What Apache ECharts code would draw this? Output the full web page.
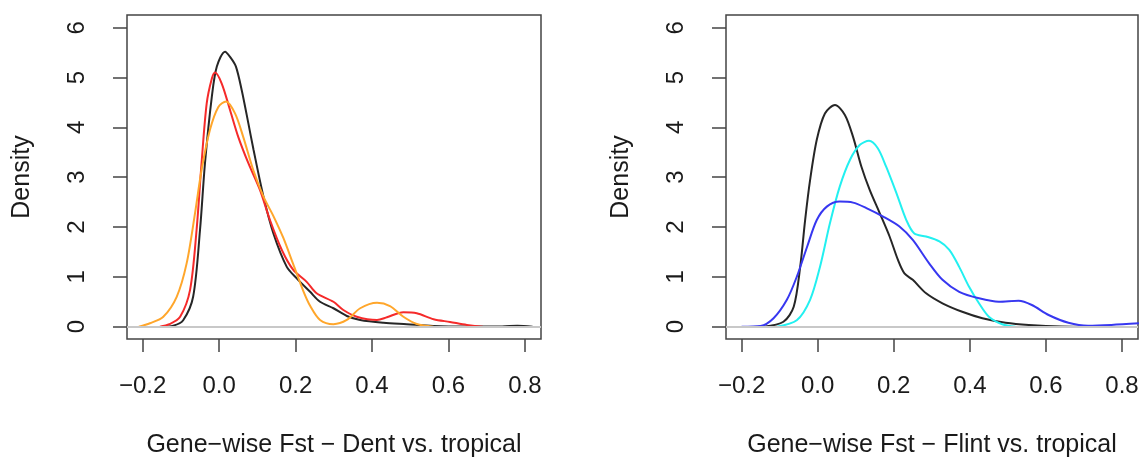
<!DOCTYPE html>
<html>
<head>
<meta charset="utf-8">
<script src="https://cdn.jsdelivr.net/npm/echarts@6/dist/echarts.min.js"></script>
<style>
  body { margin: 0; background: #fff; }
  #main { width: 1142px; height: 457px; }
</style>
</head>
<body>
<div id="main"></div>
<script>
// tick values shared by both panels
var xTicks = [-0.2, 0, 0.2, 0.4, 0.6, 0.8];
var yTicks = [0, 1, 2, 3, 4, 5, 6];

// left panel: Dent vs. tropical
var dentBlackX = [-0.15,-0.12,-0.094,-0.068,-0.05,-0.037,-0.019,-0.006,0.0155,0.03,0.044,0.059,0.0765,0.09,0.116,0.142,0.177,0.203,0.238,0.264,0.299,0.334,0.369,0.43,0.491,0.56,0.65,0.74,0.78,0.82];
var dentBlackY = [0,0.02,0.13,0.6,1.94,3.28,4.62,5.22,5.52,5.4,5.22,4.75,4.08,3.55,2.61,1.87,1.2,0.97,0.7,0.5,0.37,0.215,0.135,0.08,0.05,0.015,0.005,0.005,0.02,0];
var dentRedX = [-0.155,-0.13,-0.102,-0.076,-0.059,-0.046,-0.0325,-0.019,-0.0107,0.0068,0.0285,0.05,0.0765,0.107,0.133,0.164,0.194,0.229,0.255,0.299,0.325,0.36,0.413,0.439,0.482,0.517,0.561,0.604,0.648,0.69];
var dentRedY = [0,0.05,0.2,0.74,1.94,3.28,4.48,4.98,5.1,4.88,4.35,3.81,3.28,2.74,2.14,1.54,1.14,0.9,0.67,0.5,0.335,0.2,0.135,0.19,0.29,0.27,0.15,0.095,0.035,0];
var dentOrangeX = [-0.21,-0.181,-0.146,-0.111,-0.085,-0.063,-0.046,-0.024,-0.002,0.018,0.0416,0.063,0.0895,0.116,0.142,0.168,0.194,0.22,0.238,0.264,0.299,0.334,0.369,0.413,0.447,0.482,0.517,0.561];
var dentOrangeY = [0,0.07,0.2,0.6,1.27,2.28,3.14,3.95,4.41,4.52,4.28,3.81,3.14,2.61,2.22,1.78,1.25,0.72,0.42,0.135,0.05,0.135,0.37,0.48,0.415,0.2,0.055,0];

// right panel: Flint vs. tropical
var flintBlackX = [-0.142,-0.09,-0.063,-0.046,-0.033,-0.02,-0.0024,0.019,0.0454,0.0715,0.093,0.115,0.137,0.163,0.189,0.211,0.228,0.25,0.285,0.328,0.38,0.433,0.494,0.555,0.64,0.75];
var flintBlackY = [0,0.1,0.4,1.2,2.14,2.94,3.75,4.28,4.45,4.25,3.81,3.21,2.74,2.28,1.81,1.34,1.07,0.94,0.67,0.47,0.3,0.17,0.08,0.035,0.005,0];
var flintCyanX = [-0.107,-0.055,-0.02,0.006,0.032,0.058,0.085,0.111,0.135,0.158,0.18,0.207,0.233,0.254,0.285,0.32,0.346,0.372,0.398,0.424,0.45,0.485,0.52];
var flintCyanY = [0,0.13,0.54,1.2,2.07,2.81,3.35,3.65,3.73,3.58,3.21,2.68,2.14,1.87,1.81,1.71,1.54,1.2,0.8,0.47,0.2,0.05,0];
var flintBlueX = [-0.2,-0.15,-0.116,-0.081,-0.055,-0.028,-0.0024,0.024,0.058,0.093,0.128,0.172,0.215,0.25,0.293,0.328,0.372,0.424,0.476,0.528,0.563,0.607,0.659,0.711,0.772,0.85];
var flintBlueY = [0,0.015,0.17,0.54,1.0,1.6,2.14,2.41,2.51,2.49,2.38,2.21,2.01,1.74,1.27,0.94,0.7,0.57,0.5,0.52,0.435,0.235,0.08,0.02,0.035,0.07];

var titles = ['Gene\u2212wise Fst \u2212 Dent vs. tropical', 'Gene\u2212wise Fst \u2212 Flint vs. tropical'];

function zip(xs, ys) {
  var out = [];
  for (var i = 0; i < xs.length; i++) out.push([xs[i], ys[i]]);
  return out;
}

var font = 'Liberation Sans, Arial, sans-serif';
var boxColor = '#444';

function makeX(i) {
  return {
    type: 'value', gridIndex: i, min: -0.241, max: 0.842,
    name: titles[i], nameLocation: 'middle', nameGap: 94,
    nameTextStyle: { fontFamily: font, fontSize: 25, color: '#1a1a1a' },
    axisLine: { show: false, onZero: false },
    splitLine: { show: false },
    axisTick: { show: true, inside: false, length: 13, customValues: xTicks,
      lineStyle: { color: boxColor, width: 1.5 } },
    axisLabel: { customValues: xTicks, margin: 35, fontFamily: font, fontSize: 24, color: '#1a1a1a',
      formatter: function (v) { return v < 0 ? '\u2212' + Math.abs(v).toFixed(1) : v.toFixed(1); } }
  };
}
function makeY(i) {
  return {
    type: 'value', gridIndex: i, min: -0.247, max: 6.255,
    name: 'Density', nameLocation: 'middle', nameGap: 92, nameRotate: 90,
    nameTextStyle: { fontFamily: font, fontSize: 25, color: '#1a1a1a' },
    axisLine: { show: false, onZero: false },
    splitLine: { show: false },
    axisTick: { show: true, inside: false, length: 14, customValues: yTicks,
      lineStyle: { color: boxColor, width: 1.5 } },
    axisLabel: { customValues: yTicks, rotate: 90, margin: 38, fontFamily: font, fontSize: 24, color: '#1a1a1a' }
  };
}

function curve(i, xs, ys, color, withZero) {
  var s = {
    type: 'line', xAxisIndex: i, yAxisIndex: i,
    data: zip(xs, ys), showSymbol: false, smooth: 0.3,
    clip: true, lineStyle: { color: color, width: 2 }, z: 3
  };
  if (withZero) {
    s.markLine = {
      silent: true, symbol: 'none', label: { show: false },
      lineStyle: { color: '#c8c8c8', width: 2, type: 'solid' },
      data: [{ yAxis: 0 }], z: 4
    };
  }
  return s;
}

var myChart = echarts.init(document.getElementById('main'));
var option = {
  animation: false,
  backgroundColor: '#fff',
  grid: [
    { left: 127, top: 15, width: 414, height: 324, outerBoundsMode: 'none', show: true, borderColor: boxColor, borderWidth: 1.5, backgroundColor: 'transparent' },
    { left: 726, top: 15, width: 412, height: 324, outerBoundsMode: 'none', show: true, borderColor: boxColor, borderWidth: 1.5, backgroundColor: 'transparent' }
  ],
  xAxis: [makeX(0), makeX(1)],
  yAxis: [makeY(0), makeY(1)],
  series: [
    curve(0, dentBlackX, dentBlackY, '#262626', true),
    curve(0, dentRedX, dentRedY, '#f52a2a', false),
    curve(0, dentOrangeX, dentOrangeY, '#ffa62b', false),
    curve(1, flintBlackX, flintBlackY, '#262626', true),
    curve(1, flintCyanX, flintCyanY, '#22f0f0', false),
    curve(1, flintBlueX, flintBlueY, '#3737f0', false)
  ]
};
myChart.setOption(option);
</script>
</body>
</html>
